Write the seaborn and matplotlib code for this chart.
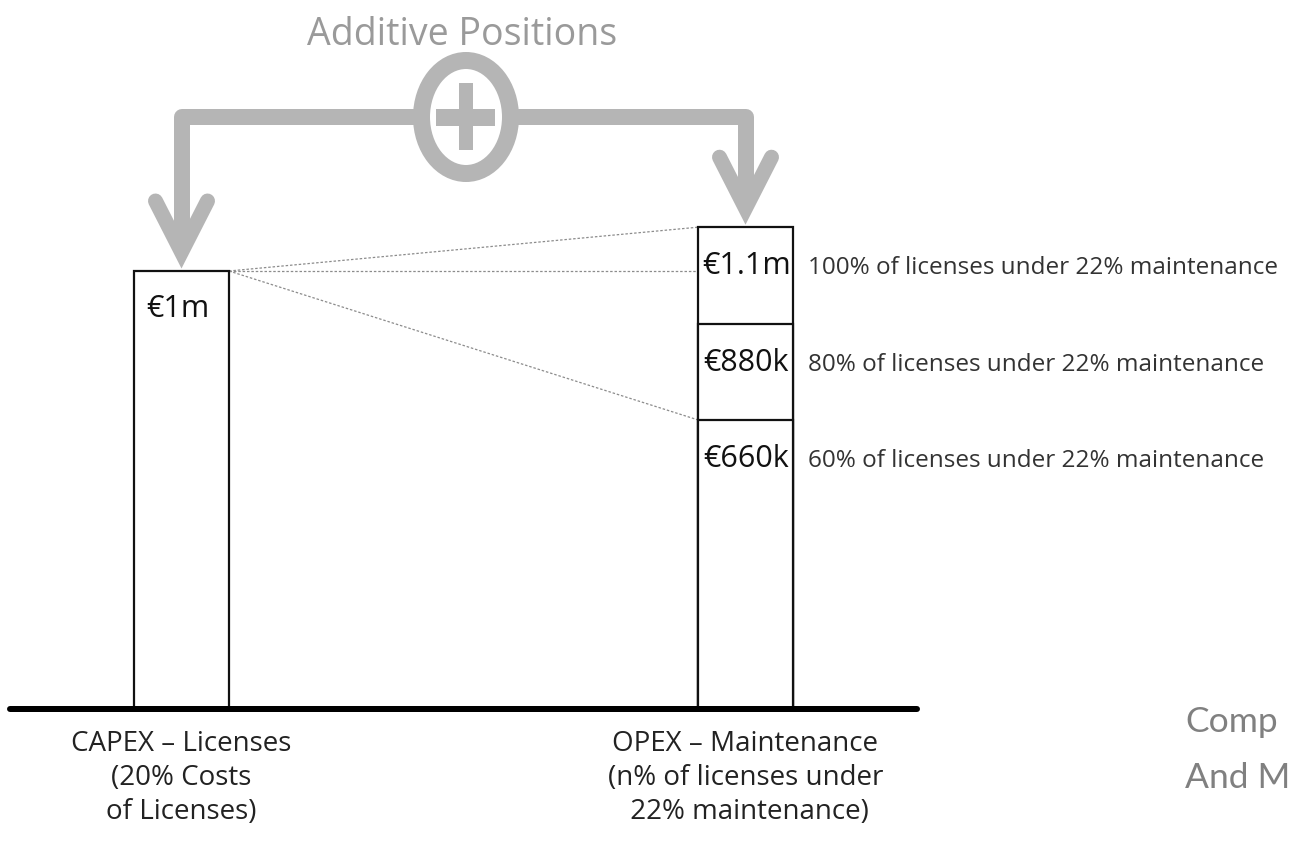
import matplotlib
matplotlib.use("Agg")
import matplotlib.pyplot as plt
import seaborn as sns
import pandas as pd
from matplotlib.patches import Ellipse, Rectangle

# ---------------- data ----------------
categories = ["CAPEX", "OPEX"]
category_labels = ["CAPEX – Licenses\n(20% Costs\nof Licenses)",
                   "OPEX – Maintenance\n(n% of licenses under\n 22% maintenance)"]
capex_value = 1.0                   # € millions
opex_values = [1.1, 0.88, 0.66]     # € millions
capex_label = "€1m"
opex_labels = ["€1.1m", "€880k", "€660k"]
opex_notes = ["100% of licenses under 22% maintenance",
              "80% of licenses under 22% maintenance",
              "60% of licenses under 22% maintenance"]
title = "Additive Positions"
side_lines = ["Comp", "And M"]

# ---------------- style ----------------
sns.set_theme(style="white")
plt.rcParams['font.family'] = ['Open Sans', 'DejaVu Sans']

W, H, DPI = 1289, 841, 100
fig = plt.figure(figsize=(W / DPI, H / DPI), dpi=DPI)
fig.patch.set_facecolor("white")

GRAY = "#b5b5b5"
PX = 72 / DPI  # points per pixel

# decoration layer (pixel coordinates, y downwards)
deco = fig.add_axes([0, 0, 1, 1], zorder=0)
deco.set_xlim(0, W)
deco.set_ylim(H, 0)
deco.axis("off")

# chart layer
ax = fig.add_axes([0, 0, 1, 1], zorder=1)
ax.set_facecolor("none")

BAR_W = 95 / 564
frames = [pd.DataFrame({"category": categories, "value": [capex_value, opex_values[0]]})]
for v in opex_values[1:]:
    frames.append(pd.DataFrame({"category": ["OPEX"], "value": [v]}))
for df in frames:
    sns.barplot(data=df, x="category", y="value", order=categories, width=BAR_W,
                color="white", saturation=1, edgecolor="#111111", linewidth=1.6,
                ax=ax, zorder=3)

ax.set_xlim(-181.5 / 564, 1 + (W - 745.5) / 564)
ax.set_ylim(-(H - 709) / 438, 709 / 438)
ax.axis("off")

# baseline
ax.axhline(0, xmin=10 / W, xmax=917 / W, color="black", lw=6 * PX, zorder=5)

# dotted guide lines from CAPEX top to OPEX levels
x0 = 0 + BAR_W / 2
x1 = 1 - BAR_W / 2
for target in [opex_values[0], capex_value, opex_values[2]]:
    ax.plot([x0, x1], [capex_value, target], color="#8c8c8c", lw=0.9,
            ls=(0, (2, 1.5)), zorder=2)

# value labels
ax.annotate(capex_label, xy=(0, capex_value), xytext=(-4, -46), textcoords="offset pixels",
            ha="center", va="baseline", fontsize=22, color="#111111", zorder=6)
for v, lab, note in zip(opex_values, opex_labels, opex_notes):
    ax.annotate(lab, xy=(1, v), xytext=(1, -47), textcoords="offset pixels",
                ha="center", va="baseline", fontsize=22, color="#111111", zorder=6)
    ax.annotate(note, xy=(1 + BAR_W / 2, v), xytext=(15, -47), textcoords="offset pixels",
                ha="left", va="baseline", fontsize=17.5, color="#333333", zorder=6)

# category labels
for i, lab in enumerate(category_labels):
    ax.annotate(lab, xy=(i, 0), xytext=(0, -69), textcoords="offset pixels",
                ha="center", va="center", fontsize=20, color="#222222",
                linespacing=1.3, zorder=6)

# ---------------- additive arrows ----------------
def to_px(x, y):
    dx, dy = ax.transData.transform((x, y))
    return dx, H - dy

ltx, lty = to_px(0, capex_value)
rtx, rty = to_px(1, opex_values[0])
BAR_Y = 117

deco.plot([ltx, ltx, rtx, rtx], [lty - 22, BAR_Y, BAR_Y, rty - 22], color=GRAY,
          lw=16 * PX, solid_joinstyle="round", solid_capstyle="butt")
for tx, ty in [(ltx, lty), (rtx, rty)]:
    deco.plot([tx - 26, tx, tx + 26], [ty - 70, ty - 19, ty - 70], color=GRAY,
              lw=15 * PX, solid_joinstyle="miter", solid_capstyle="round")

cx = 466
deco.add_patch(Ellipse((cx, BAR_Y), 89, 113, facecolor="white", edgecolor=GRAY,
                       lw=17 * PX, zorder=3))
deco.add_patch(Rectangle((cx - 7, 83), 14, 67, color=GRAY, lw=0, zorder=4))
deco.add_patch(Rectangle((cx - 30, BAR_Y - 8.5), 59, 17, color=GRAY, lw=0, zorder=4))

deco.text(462, 45, title, ha="center", va="baseline", fontsize=27, color="#9a9a9a")

# side text at the right edge
deco.text(1185, 732, side_lines[0], ha="left", va="baseline", fontsize=25.5,
          color="#808080", family=["Lato", "DejaVu Sans"])
deco.text(1185, 788, side_lines[1], ha="left", va="baseline", fontsize=25.5,
          color="#808080", family=["Lato", "DejaVu Sans"])

fig.savefig("out.png", dpi=DPI, facecolor="white")
